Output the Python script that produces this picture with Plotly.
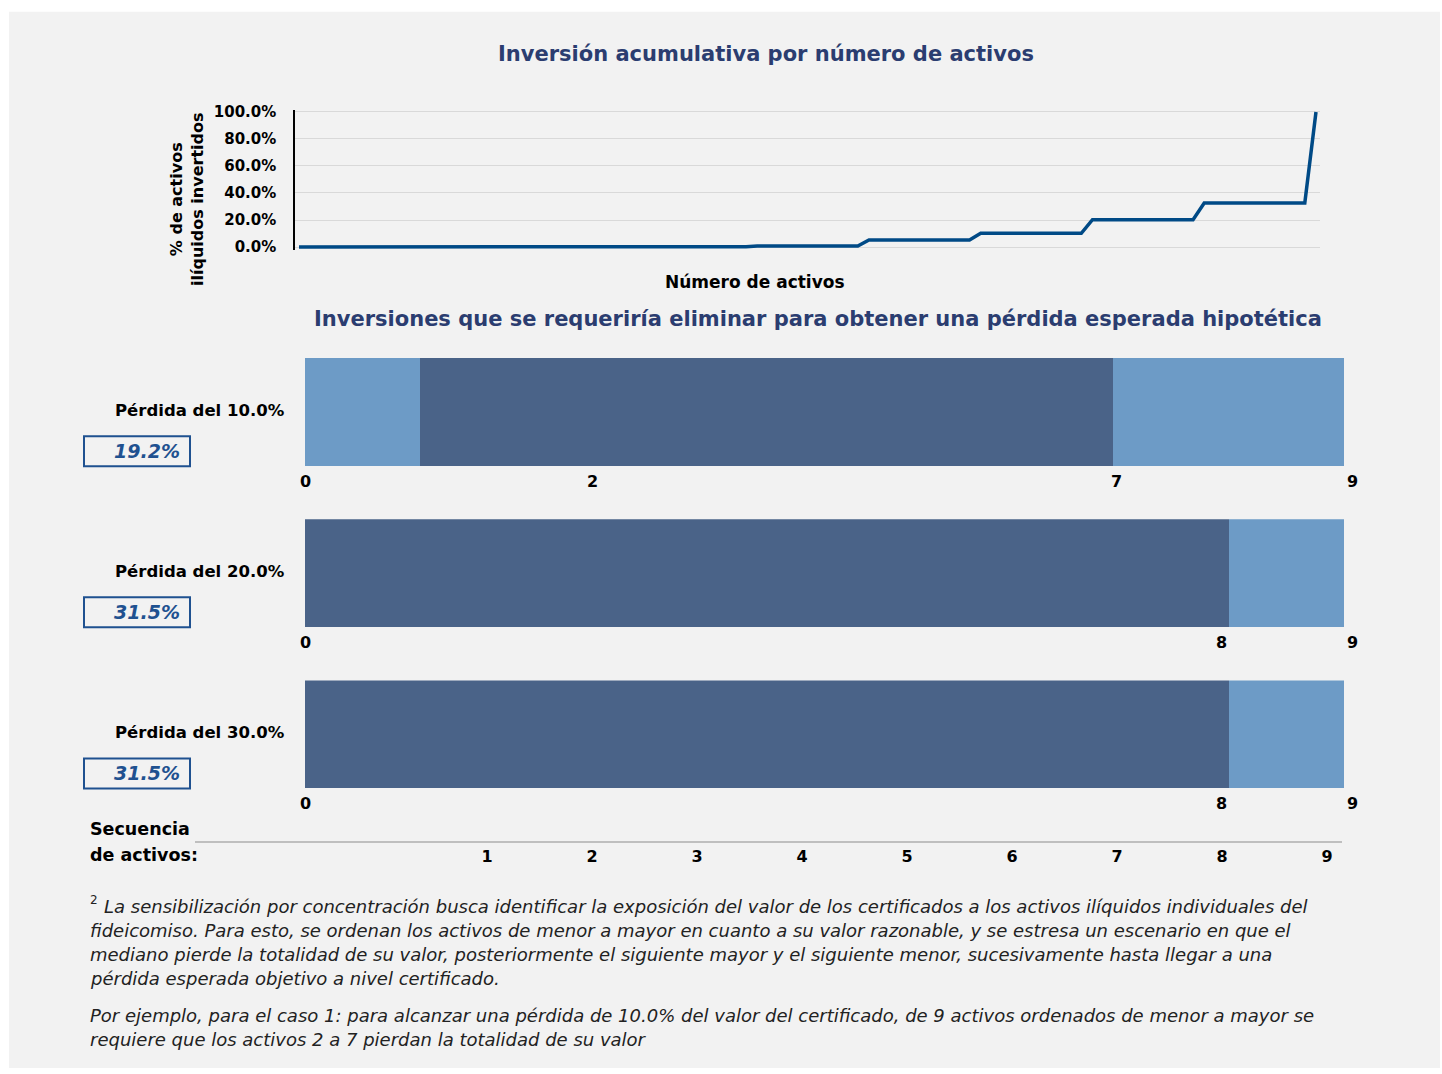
import plotly.graph_objects as go

# observed page->picture mapping: picture_y = 7.2 + 0.987 * figure_y (x is 1:1)
PIC_OFF, PIC_SCALE = 7.2, 0.987
W, H = 1442, 1074

# ---------------- data ----------------
titulo_1 = "Inversión acumulativa por número de activos"
titulo_2 = "Inversiones que se requeriría eliminar para obtener una pérdida esperada hipotética"

# cumulative line (x = point index along "Número de activos", y = % cumulative)
linea_x = [0, 1, 10, 11, 20, 21, 30, 31, 40, 41, 50, 51, 60, 61, 70, 71, 80, 81, 90, 91]
linea_y = [0.0, 0.0, 0.0, 0.02, 0.02, 0.05, 0.05, 0.3, 0.3, 0.8, 0.8, 5.2, 5.2, 10.2, 10.2,
           20.2, 20.2, 32.6, 32.6, 100.0]
y_ticks = [0, 20, 40, 60, 80, 100]
y_ticktext = ["0.0%", "20.0%", "40.0%", "60.0%", "80.0%", "100.0%"]

casos = ["Pérdida del 10.0%", "Pérdida del 20.0%", "Pérdida del 30.0%"]
porcentajes = ["19.2%", "31.5%", "31.5%"]
inicio_eliminado = [1, 0, 0]
fin_eliminado = [7, 8, 8]
etiquetas_inicio = ["2", None, None]
total_activos = 9
secuencia = [1, 2, 3, 4, 5, 6, 7, 8, 9]

nota_lineas = [
    "La sensibilización por concentración busca identificar la exposición del valor de los certificados a los activos ilíquidos individuales del",
    "fideicomiso. Para esto, se ordenan los activos de menor a mayor en cuanto a su valor razonable, y se estresa un escenario en que el",
    "mediano pierde la totalidad de su valor, posteriormente el siguiente mayor y el siguiente menor, sucesivamente hasta llegar a una",
    "pérdida esperada objetivo a nivel certificado.",
    "Por ejemplo, para el caso 1: para alcanzar una pérdida de 10.0% del valor del certificado, de 9 activos ordenados de menor a mayor se",
    "requiere que los activos 2 a 7 pierdan la totalidad de su valor",
]

# ---------------- style ----------------
FONT = "DejaVu Sans"
NAVY = "#2b3d70"
LINE_BLUE = "#004a86"
LIGHT = "#6d9bc6"
DARK = "#4a6388"
BOX_BLUE = "#1f5190"
BG = "#f2f2f2"


def X(px):
    return px / W


def Y(py):
    return 1 - ((py - PIC_OFF) / PIC_SCALE) / H


fig = go.Figure()

# top line chart
fig.add_trace(go.Scatter(x=linea_x, y=linea_y, mode="lines",
                         line=dict(color=LINE_BLUE, width=3.5),
                         xaxis="x", yaxis="y", showlegend=False, hoverinfo="skip"))

# bars
row_axes = ["y2", "y3", "y4"]
for i in range(len(casos)):
    ya = row_axes[i]
    s, e = inicio_eliminado[i], fin_eliminado[i]
    segs = [(0, s, LIGHT), (s, e, DARK), (e, total_activos, LIGHT)]
    for b, f, c in segs:
        if f - b <= 0:
            continue
        fig.add_trace(go.Bar(x=[f - b], base=[b], y=[0], orientation="h", width=1,
                             marker=dict(color=c, line=dict(width=0)),
                             xaxis="x2", yaxis=ya, showlegend=False, hoverinfo="skip"))

# dummy trace for sequence axis
fig.add_trace(go.Scatter(x=[secuencia[0]], y=[0], mode="markers", marker=dict(opacity=0),
                         xaxis="x3", yaxis="y5", showlegend=False, hoverinfo="skip"))

row_domains = [(358, 466), (519, 627), (680, 788)]

layout = dict(
    width=W, height=H,
    margin=dict(l=0, r=0, t=0, b=0),
    paper_bgcolor="white", plot_bgcolor="rgba(0,0,0,0)",
    font=dict(family=FONT, color="black"),
    barmode="overlay",
    xaxis=dict(domain=[X(295), X(1320)], range=[-0.36, 91.36], showgrid=False,
               zeroline=False, showticklabels=False, showline=False, anchor="y"),
    yaxis=dict(domain=[Y(250), Y(110)], range=[-2.2, 101.5], tickvals=y_ticks,
               ticktext=y_ticktext, showgrid=True, gridcolor="#d9d9d9", gridwidth=1,
               zeroline=False, showline=True, linecolor="black", linewidth=1.5,
               ticks="", ticklabelstandoff=14,
               tickfont=dict(family=FONT, size=15, color="black", weight="bold"),
               anchor="x"),
    xaxis2=dict(domain=[X(305), X(1344)], range=[0, total_activos], showgrid=False,
                zeroline=False, showticklabels=False, showline=False, anchor="y4"),
    xaxis3=dict(domain=[X(195), X(1342)], range=[-1.781, 9.143], tickvals=secuencia,
                showgrid=False, zeroline=False, showline=True, linecolor="#bfbfbf",
                linewidth=2, ticks="", anchor="y5",
                tickfont=dict(family=FONT, size=16, color="black", weight="bold")),
    yaxis5=dict(domain=[Y(840), Y(830)], range=[0, 1], visible=False, anchor="x3"),
    bargap=0,
)
for i, (t, b) in enumerate(row_domains):
    layout["yaxis%d" % (i + 2)] = dict(domain=[Y(b), Y(t)], range=[-0.5, 0.5],
                                       visible=False, anchor="x2")
fig.update_layout(**layout)

# background panel
fig.add_shape(type="rect", xref="paper", yref="paper", x0=X(9), x1=X(1440), y0=0,
              y1=Y(12), fillcolor=BG, line=dict(width=0), layer="below")

ann = []
ann.append(dict(text="<b>%s</b>" % titulo_1, x=X(766), y=Y(54), font=dict(size=21, color=NAVY)))
ann.append(dict(text="<b>% de activos<br>ilíquidos invertidos</b>", x=X(187), y=Y(200),
                textangle=-90, font=dict(size=16, color="black")))
ann.append(dict(text="<b>Número de activos</b>", x=X(755), y=Y(282), font=dict(size=17, color="black")))
ann.append(dict(text="<b>%s</b>" % titulo_2, x=X(818), y=Y(319), font=dict(size=21, color=NAVY)))

for i in range(len(casos)):
    t, b = row_domains[i]
    lab_y = b + 15
    ann.append(dict(text="<b>%s</b>" % casos[i], x=X(287), y=Y((t + b) / 2 - 2), xanchor="right",
                    font=dict(size=16.5, color="black")))
    ann.append(dict(text="<b><i>%s</i></b>" % porcentajes[i], x=X(182), y=Y(b - 15), xanchor="right",
                    font=dict(size=19, color=BOX_BLUE)))
    fig.add_shape(type="rect", xref="paper", yref="paper", x0=X(84), x1=X(190), y0=Y(b),
                  y1=Y(b - 30), line=dict(color=BOX_BLUE, width=2), fillcolor="rgba(0,0,0,0)")
    # labels under bars
    ann.append(dict(text="<b>0</b>", x=0, xref="x2", y=Y(lab_y), yref="paper",
                    font=dict(size=16, color="black")))
    if etiquetas_inicio[i] is not None:
        ann.append(dict(text="<b>%s</b>" % etiquetas_inicio[i], x=int(etiquetas_inicio[i]),
                        xref="x3", y=Y(lab_y), yref="paper", font=dict(size=16, color="black")))
    ann.append(dict(text="<b>%d</b>" % fin_eliminado[i], x=fin_eliminado[i], xref="x3",
                    y=Y(lab_y), yref="paper", font=dict(size=16, color="black")))
    ann.append(dict(text="<b>%d</b>" % total_activos, x=total_activos, xref="x2", xshift=8,
                    y=Y(lab_y), yref="paper", font=dict(size=16, color="black")))

ann.append(dict(text="<b>Secuencia</b>", x=X(88), y=Y(828), xanchor="left", font=dict(size=17.5, color="black")))
ann.append(dict(text="<b>de activos:</b>", x=X(88), y=Y(854), xanchor="left", font=dict(size=17.5, color="black")))

# footnote
ann.append(dict(text="2", x=X(88), y=Y(899), xanchor="left", font=dict(size=12, color="#222222")))
nota_y = [906, 930, 954, 978, 1015, 1039]
for j, (txt, py) in enumerate(zip(nota_lineas, nota_y)):
    x0 = 102 if j == 0 else 88
    ann.append(dict(text="<i>%s</i>" % txt, x=X(x0), y=Y(py), xanchor="left",
                    font=dict(size=18, color="#222222")))

for a in ann:
    a.setdefault("xref", "paper")
    a.setdefault("yref", "paper")
    a.setdefault("xanchor", "center")
    a.setdefault("yanchor", "middle")
    a["showarrow"] = False
fig.update_layout(annotations=ann)

fig.write_html(
    "out.html",
    config={"displayModeBar": False},
    post_script=("document.body.style.margin='0';document.body.style.overflow='hidden';"
                 "document.documentElement.style.background="
                 "'linear-gradient(#ffffff,#ffffff) 0 0 / 100% 8px no-repeat, #f2f2f2';"),
)
